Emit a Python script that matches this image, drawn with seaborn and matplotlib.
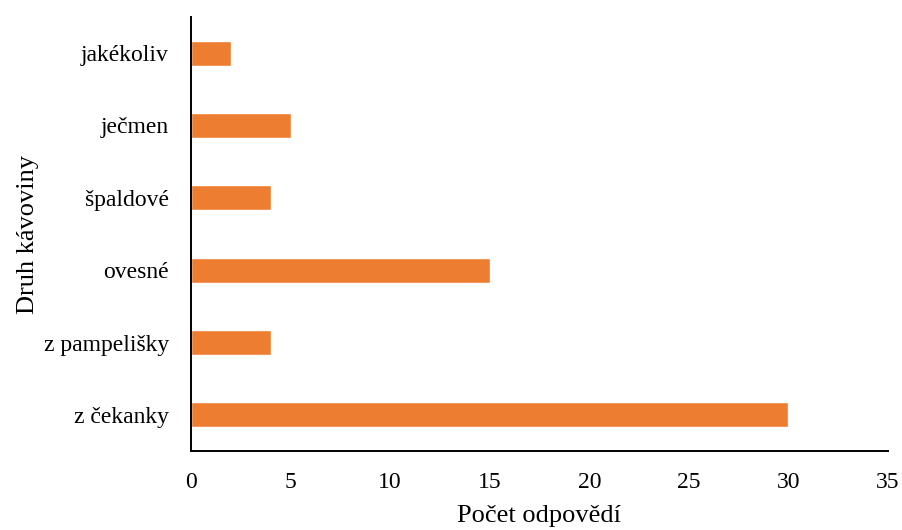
import matplotlib
matplotlib.use("Agg")
import matplotlib.pyplot as plt
import seaborn as sns
import pandas as pd

categories = ["jakékoliv", "ječmen", "špaldové", "ovesné", "z pampelišky", "z čekanky"]
values = [2, 5, 4, 15, 4, 30]
x_ticks = [0, 5, 10, 15, 20, 25, 30, 35]

sns.set_theme(style="white")
plt.rcParams['font.family'] = ['Liberation Serif', 'DejaVu Serif']

df = pd.DataFrame({"cat": categories, "val": values})

fig = plt.figure(figsize=(9.03, 5.30), dpi=100)
ax = fig.add_axes([191/903, 1 - 451/530, (888-191)/903, (451-17)/530])
sns.barplot(data=df, x="val", y="cat", orient="h", color="#ED7D31",
            saturation=1, width=0.35, ax=ax)
ax.set_xlim(0, 35)
ax.set_xticks(x_ticks)
ax.set_xticklabels([str(t) for t in x_ticks])
ax.set_ylim(5.5, -0.5)
for s in ["top", "right"]:
    ax.spines[s].set_visible(False)
for s in ["left", "bottom"]:
    ax.spines[s].set_color("black")
    ax.spines[s].set_linewidth(1.4)
ax.tick_params(axis="x", length=0, pad=15, labelsize=17, colors="black")
ax.tick_params(axis="y", length=0, pad=16, labelsize=17, colors="black")
ax.set_xlabel("Počet odpovědí", fontsize=19, color="black", labelpad=9)
ax.set_ylabel("Druh kávoviny", fontsize=19, color="black", labelpad=3)
fig.savefig("out.png", dpi=100)
